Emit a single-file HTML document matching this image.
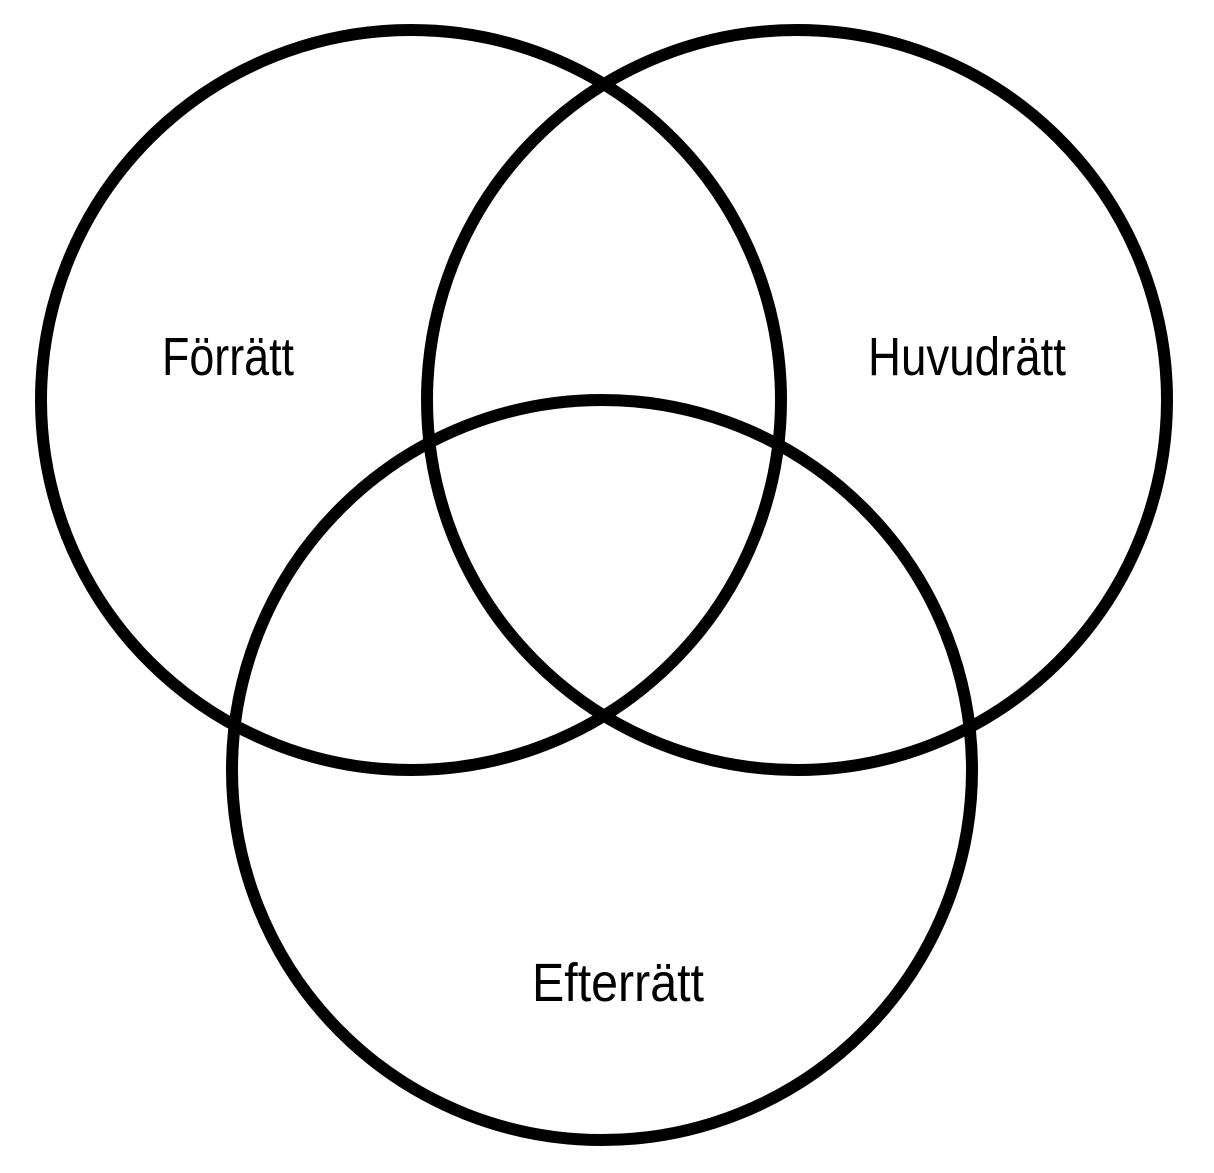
<!DOCTYPE html>
<html><head><meta charset="utf-8"><style>html,body{margin:0;padding:0;background:#fff}</style></head>
<body>
<svg width="1214" height="1168" viewBox="0 0 1214 1168" xmlns="http://www.w3.org/2000/svg">
<rect width="1214" height="1168" fill="#fff"/>
<g fill="none" stroke="#000" stroke-width="12">
<circle cx="411" cy="400" r="370"/>
<circle cx="797" cy="400" r="370"/>
<circle cx="602" cy="770" r="370"/>
</g>
<g font-family="Liberation Sans Narrow, Liberation Sans, sans-serif" font-size="54" fill="#000">
<text x="162" y="375" textLength="132" lengthAdjust="spacingAndGlyphs">Förrätt</text>
<text x="868" y="375" textLength="198" lengthAdjust="spacingAndGlyphs">Huvudrätt</text>
<text x="532" y="1001" textLength="172" lengthAdjust="spacingAndGlyphs">Efterrätt</text>
</g>
</svg>
</body></html>
